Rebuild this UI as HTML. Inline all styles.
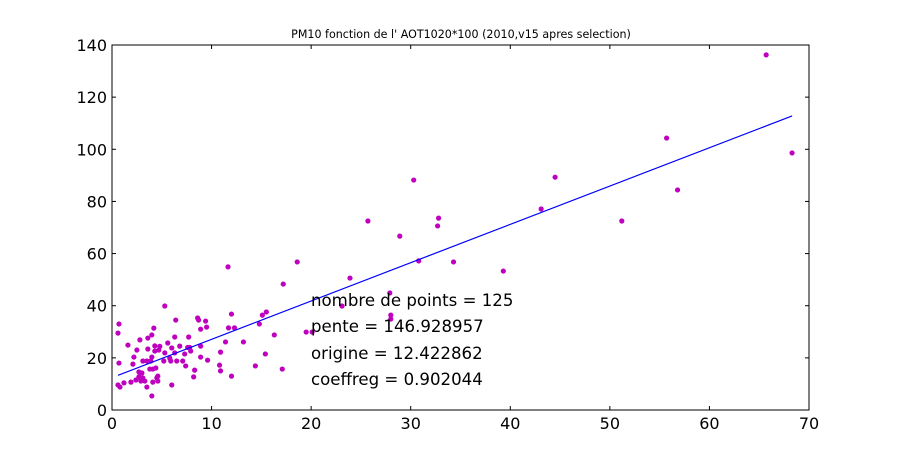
<!DOCTYPE html>
<html><head><meta charset="utf-8"><style>
body{margin:0;background:#fff;}
svg{display:block;font-family:"DejaVu Sans","Liberation Sans",sans-serif;}
</style></head><body>
<svg id="chart" width="900" height="457" viewBox="0 0 900 457">
<rect width="900" height="457" fill="#fff"/>
<text x="461" y="38" font-size="11.1" text-anchor="middle">PM10 fonction de l' AOT1020*100 (2010,v15 apres selection)</text>
<g id="marks"></g>
<g id="axes"></g>
<g font-size="16.6">
<text x="311" y="306">nombre de points = 125</text>
<text x="311" y="332">pente = 146.928957</text>
<text x="311" y="359">origine = 12.422862</text>
<text x="311" y="385">coeffreg = 0.902044</text>
</g>
</svg>
<script>
const xs=[11.65,18.6,17.2,5.3,0.7,0.6,6.4,8.6,8.7,9.4,9.5,8.9,12.0,11.7,12.3,4.2,4.0,3.6,2.8,1.6,2.5,3.6,4.3,4.8,4.3,4.7,5.6,6.0,6.3,6.8,7.7,7.6,7.8,8.9,7.9,7.3,5.3,6.3,5.8,6.5,5.2,5.9,2.2,2.1,3.1,3.5,4.0,3.9,10.9,11.4,13.2,15.4,14.4,17.1,15.1,15.5,14.8,16.3,19.5,0.7,0.6,0.8,1.2,1.9,2.4,2.7,2.7,3.0,3.1,2.9,3.3,3.5,4.0,4.1,4.5,4.6,4.6,3.8,4.1,4.4,6.0,7.4,8.3,8.2,10.8,10.9,12.0,9.6,7.1,8.9,30.3,44.5,55.7,65.7,68.3,56.8,43.1,51.2,25.7,32.8,32.7,28.9,30.8,34.3,39.3,23.9,27.9,23.1,28.0,28.0,20.1];
const ys=[54.9,56.8,48.3,39.9,33,29.5,34.5,35.3,34.5,34.1,31.8,31,36.8,31.5,31.5,31.4,28.8,27.6,26.9,24.9,23,23.4,24.6,24.4,22.6,23,25.7,23.8,28,24.5,28,24,24,24.5,22.6,21.5,21.9,21.9,19.9,18.8,18.8,18.8,20.3,17.6,18.8,18.8,20.3,18.8,22.2,26.1,26.1,21.5,16.9,15.7,36.4,37.6,33,28.8,29.9,18,9.6,8.8,10.4,10.7,11.5,12.7,14.6,14.2,12.3,11.1,11.1,8.8,5.4,10.7,12.3,13.0,11.1,15.7,15.7,16.1,9.6,16.9,15.3,12.7,17.2,15.0,13.0,19.1,18.8,20.3,88.2,89.3,104.3,136.2,98.6,84.4,77.1,72.5,72.5,73.6,70.6,66.7,57.2,56.8,53.3,50.6,44.9,39.9,36.4,34.9,29.9];
const xTicks=[0,10,20,30,40,50,60,70];
const yTicks=[0,20,40,60,80,100,120,140];
const slope=1.46928957, intercept=12.422862;
const NS="http://www.w3.org/2000/svg";
const L=112,R=809,T=45,B=410;
const sx=v=>L+(v-0)/70*(R-L), sy=v=>B-(v-0)/140*(B-T);
const marks=document.getElementById('marks'), axes=document.getElementById('axes');
function mk(tag,attrs,parent){const e=document.createElementNS(NS,tag);for(const k in attrs)e.setAttribute(k,attrs[k]);parent.appendChild(e);return e;}
for(let i=0;i<xs.length;i++){
  const c=mk('circle',{cx:sx(xs[i]),cy:sy(ys[i]),r:2.6,fill:'#bf00bf'},marks);
  
  
}
const x0=Math.min(...xs), x1=Math.max(...xs);
const ln=mk('line',{x1:sx(x0),y1:sy(intercept+slope*x0),x2:sx(x1),y2:sy(intercept+slope*x1),stroke:'#0000ff','stroke-width':1.2},marks);


const fr=mk('rect',{x:L,y:T,width:R-L,height:B-T,fill:'none',stroke:'#000','stroke-width':1},axes);


xTicks.forEach(t=>{
  const x=sx(t);
  mk('line',{x1:x,y1:B,x2:x,y2:B-4,stroke:'#000'},axes);
  mk('line',{x1:x,y1:T,x2:x,y2:T+4,stroke:'#000'},axes);
  const tx=mk('text',{x:x,y:429,'font-size':16,'text-anchor':'middle'},axes);
  tx.textContent=t;
  
  
});
yTicks.forEach(t=>{
  const y=sy(t);
  mk('line',{x1:L,y1:y,x2:L+4,y2:y,stroke:'#000'},axes);
  mk('line',{x1:R,y1:y,x2:R-4,y2:y,stroke:'#000'},axes);
  const tx=mk('text',{x:107,y:y+6,'font-size':16,'text-anchor':'end'},axes);
  tx.textContent=t;
  
  
});
</script>
</body></html>
